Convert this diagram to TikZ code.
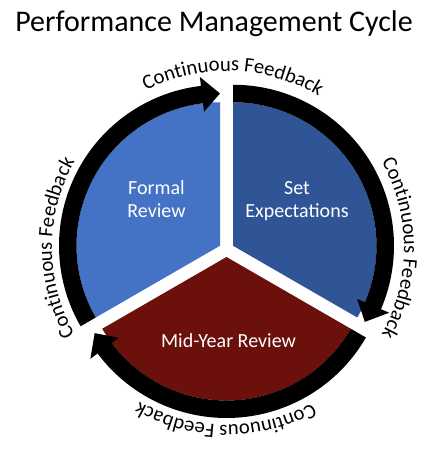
\documentclass[tikz,border=0pt]{standalone}
\usepackage{fontspec}
\setmainfont{Carlito}
\usetikzlibrary{decorations.text}
\definecolor{segA}{HTML}{4472C4}
\definecolor{segB}{HTML}{2F5597}
\definecolor{segC}{RGB}{107,16,10}
\begin{document}
\begin{tikzpicture}[x=0.75pt,y=0.75pt,
  seglabel/.style={text=white,font=\fontsize{15}{17.25}\selectfont,align=center},
  ringarrow/.style={fill=black},
  arctext/.style={decorate,decoration={text along path,text align=center,
     text={|\fontsize{15.5}{18}\selectfont|Continuous Feedback}}}
]
\useasboundingbox (0,0) rectangle (436,461);
\coordinate (cb) at (220,215.25);
\coordinate (cd) at (233,215.25);
\coordinate (cr) at (226.5,204);
\coordinate (ct) at (227,213);
% sectors
\fill[segA] (cb) -- ++(90:143.5) arc[start angle=90,end angle=210,radius=143.5] -- cycle;
\fill[segB] (cd) -- ++(-30:143.5) arc[start angle=-30,end angle=90,radius=143.5] -- cycle;
\fill[segC] (cr) -- ++(210:143.5) arc[start angle=210,end angle=330,radius=143.5] -- cycle;
% ring arrows
\begin{scope}[shift={(cb)}]
\fill[ringarrow] (210:143.5) arc[start angle=210,end angle=96.8,radius=143.5] -- (96.8:135) -- (90:152.25) -- (96.8:170) -- (96.8:161) arc[start angle=96.8,end angle=210,radius=161] -- cycle;
\end{scope}
\begin{scope}[shift={(cd)}]
\fill[ringarrow] (90:143.5) arc[start angle=90,end angle=-23.2,radius=143.5] -- (-23.2:135) -- (-30:152.25) -- (-23.2:170) -- (-23.2:161) arc[start angle=-23.2,end angle=90,radius=161] -- cycle;
\end{scope}
\begin{scope}[shift={(cr)}]
\fill[ringarrow] (-30:143.5) arc[start angle=-30,end angle=-143.2,radius=143.5] -- (-143.2:135) -- (-150:152.25) -- (-143.2:170) -- (-143.2:161) arc[start angle=-143.2,end angle=-30,radius=161] -- cycle;
\end{scope}
% curved texts
\path[arctext] (ct) ++(148:177) arc[start angle=148,end angle=28,radius=177];
\path[arctext] (ct) ++(60:177) arc[start angle=60,end angle=-60,radius=177];
\path[arctext] (ct) ++(-30.5:177) arc[start angle=-30.5,end angle=-150.5,radius=177];
\path[arctext] (ct) ++(240:175) arc[start angle=240,end angle=120,radius=175];
% labels
\node[font=\fontsize{22.5}{27}\selectfont,anchor=base] (title) at (214,429.5) {Performance Management Cycle};
\node[seglabel] (formal) at (156.5,261.5) {Formal\\Review};
\node[seglabel] (setexp) at (297,259.5) {Set\\Expectations};
\node[seglabel,anchor=base] (midyear) at (228.5,113) {Mid-Year Review};
\end{tikzpicture}
\end{document}
